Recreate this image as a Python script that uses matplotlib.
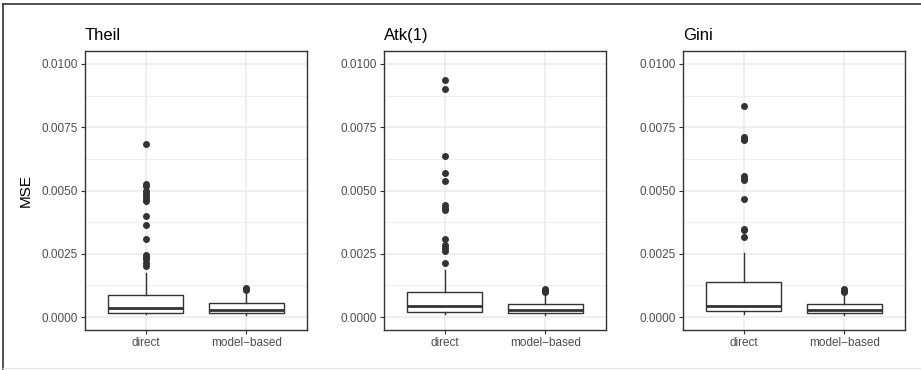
"""MSE boxplots: direct vs model-based estimators for three inequality measures."""
import numpy as np
import matplotlib
matplotlib.use('Agg')
import matplotlib.pyplot as plt
from matplotlib.lines import Line2D

plt.rcParams['font.family'] = ['Liberation Sans', 'DejaVu Sans']

# ---- data ----
panels = ['Theil', 'Atk(1)', 'Gini']
groups = ['direct', 'model\u2212based']

# per panel: [direct, model-based] -> (whislo, q1, med, q3, whishi)
theil_stats = [(0.00012, 0.00018, 0.00037, 0.00089, 0.00176),
               (0.00010, 0.00016, 0.00028, 0.00054, 0.00090)]
atk_stats = [(0.00012, 0.00022, 0.00043, 0.00100, 0.00185),
             (0.00010, 0.00017, 0.00029, 0.00052, 0.00084)]
gini_stats = [(0.00012, 0.00024, 0.00043, 0.00139, 0.00254),
              (0.00010, 0.00017, 0.00029, 0.00052, 0.00084)]

theil_out_direct = [0.00682, 0.00526, 0.00516, 0.00500, 0.00488, 0.00477, 0.00467,
                    0.00460, 0.00401, 0.00362, 0.00309, 0.00245, 0.00237, 0.00228,
                    0.00215, 0.00202]
theil_out_model = [0.00116, 0.00112, 0.00108]
atk_out_direct = [0.00938, 0.00899, 0.00638, 0.00569, 0.00536, 0.00442, 0.00431,
                  0.00423, 0.00309, 0.00284, 0.00274, 0.00263, 0.00215]
atk_out_model = [0.00110, 0.00105, 0.00100]
gini_out_direct = [0.00834, 0.00713, 0.00705, 0.00700, 0.00558, 0.00549, 0.00543,
                   0.00468, 0.00349, 0.00343, 0.00316]
gini_out_model = [0.00110, 0.00105, 0.00100]

all_stats = [theil_stats, atk_stats, gini_stats]
all_out = [[theil_out_direct, theil_out_model],
           [atk_out_direct, atk_out_model],
           [gini_out_direct, gini_out_model]]

yticks = [0.0, 0.0025, 0.0050, 0.0075, 0.0100]

# ---- figure ----
fig = plt.figure(figsize=(9.21, 3.70), dpi=100)
W, H = 921, 370
lefts = [85, 384, 683]
dark = '#333333'

for i, name in enumerate(panels):
    ax = fig.add_axes([lefts[i] / W, 1 - 330 / H, 222 / W, 279 / H])
    bx = []
    for s, fl in zip(all_stats[i], all_out[i]):
        lo, q1, med, q3, hi = s
        bx.append(dict(whislo=lo, q1=q1, med=med, q3=q3, whishi=hi, fliers=fl))
    ax.bxp(bx, positions=[1, 2], widths=0.75, showcaps=False, patch_artist=True,
           boxprops=dict(facecolor='white', edgecolor=dark, linewidth=1.0),
           medianprops=dict(color=dark, linewidth=2.0),
           whiskerprops=dict(color=dark, linewidth=1.0),
           flierprops=dict(marker='o', markerfacecolor=dark, markeredgecolor=dark,
                           markersize=4))
    ax.set_xlim(0.4, 2.6)
    ax.set_ylim(-0.00051, 0.01051)
    ax.set_xticks([1, 2])
    ax.set_xticklabels(groups)
    ax.set_yticks(yticks)
    ax.set_yticklabels([f'{v:.4f}' for v in yticks])
    ax.set_yticks([0.00125, 0.00375, 0.00625, 0.00875], minor=True)
    ax.grid(True, which='major', color='#EBEBEB', linewidth=1.1)
    ax.grid(True, which='minor', axis='y', color='#EBEBEB', linewidth=0.6)
    ax.set_axisbelow(True)
    ax.tick_params(axis='both', which='major', labelsize=8.5, labelcolor='#4D4D4D',
                   color=dark, length=3, width=0.8, pad=2)
    ax.tick_params(axis='y', which='minor', length=0)
    for sp in ax.spines.values():
        sp.set_color(dark)
        sp.set_linewidth(1.0)
    ax.set_title(name, loc='left', fontsize=12, pad=8)
    if i == 0:
        ax.set_ylabel('MSE', fontsize=11)
        ax.yaxis.set_label_coords(-0.234, 0.5)

# outer frame of the original image
fig.add_artist(Line2D([3 / W, 3 / W], [0, 1 - 4 / H], color=dark, lw=1.2))
fig.add_artist(Line2D([3 / W, 1], [1 - 4 / H, 1 - 4 / H], color=dark, lw=1.2))
fig.add_artist(Line2D([3 / W, 1], [2 / H, 2 / H], color='#E5E5E5', lw=1.0))

plt.savefig('out.png', dpi=100)
